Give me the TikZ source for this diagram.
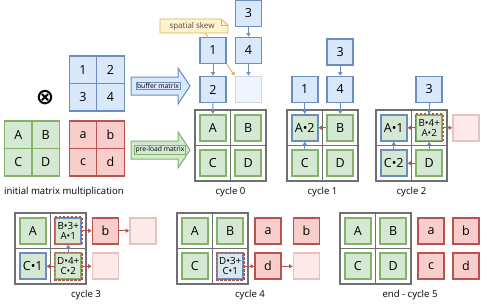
\documentclass[tikz,border=0pt]{standalone}
\usepackage{fontspec}
\setmainfont{Open Sans}
\newfontfamily\symbolfont{DejaVu Sans}
\usetikzlibrary{arrows.meta}

\definecolor{bluefill}{HTML}{DAE8FC}
\definecolor{blueline}{HTML}{6C8EBF}
\definecolor{greenfill}{HTML}{D5E8D4}
\definecolor{greenline}{HTML}{82B366}
\definecolor{redfill}{HTML}{F8CECC}
\definecolor{redline}{HTML}{B85450}
\definecolor{yellowfill}{HTML}{FFF2CC}
\definecolor{yellowline}{HTML}{D6B656}
\definecolor{gridgray}{HTML}{707070}

\begin{document}
\begin{tikzpicture}[x=1pt,y=-1pt]
\tikzset{
  mcell/.style={rectangle,draw,line width=1.2pt,minimum size=27.5pt,inner sep=0pt,font=\fontsize{12.5}{14}\selectfont},
  bcell/.style={mcell,fill=bluefill,draw=blueline},
  gcell/.style={mcell,fill=greenfill,draw=greenline},
  rcell/.style={mcell,fill=redfill,draw=redline},
  bbox/.style={bcell,line width=1.6pt,minimum size=26pt},
  gbox/.style={gcell,line width=1.6pt,minimum size=26pt},
  rbox/.style={rcell,line width=1.6pt,minimum size=26pt},
  bfaint/.style={bbox,fill=bluefill!45,draw=blueline!35},
  rfaint/.style={rbox,fill=redfill!45,draw=redline!35},
  sumtext/.style={align=center,font=\fontsize{9.8}{10.2}\selectfont},
  reddash/.style={redline,line width=1.4pt,dash pattern=on 2.5pt off 1.5pt},
  gridline/.style={gridgray,line width=1.3pt},
  gridframe/.style={gridgray,line width=2pt,fill=white},
  barrow/.style={-{Triangle[length=3.5pt,width=4pt]},blueline,line width=1pt},
  rarrow/.style={-{Triangle[length=3.5pt,width=4pt]},redline,line width=1pt},
  yarrow/.style={-{Triangle[length=3.5pt,width=4pt]},yellowline,line width=0.9pt},
  tag/.style={draw,line width=0.8pt,inner sep=1pt,font=\fontsize{6.8}{7.5}\selectfont},
  caption/.style={font=\fontsize{9.6}{11}\selectfont}
}
\useasboundingbox (0,0) rectangle (500,303);

% initial matrices
\node[bcell] (m_1) at (83,69.75) {1};
\node[bcell] (m_2) at (110.5,69.75) {2};
\node[bcell] (m_3) at (83,97.25) {3};
\node[bcell] (m_4) at (110.5,97.25) {4};
\node[font=\symbolfont\bfseries\fontsize{22}{22}\selectfont,inner sep=0pt] (m_otimes) at (45,98) {⊗};
\node[gcell] (m_A) at (18.25,134.75) {A};
\node[gcell] (m_B) at (45.75,134.75) {B};
\node[gcell] (m_C) at (18.25,162.25) {C};
\node[gcell] (m_D) at (45.75,162.25) {D};
\node[rcell] (m_a) at (83,134.75) {a};
\node[rcell] (m_b) at (110.5,134.75) {b};
\node[rcell] (m_c) at (83,162.25) {c};
\node[rcell] (m_d) at (110.5,162.25) {d};
\node[caption] (t_init) at (64,192) {initial matrix multiplication};

% block arrows
\draw[fill=bluefill,draw=blueline,line width=1pt] (131,77) -- (178,77) -- (178,68) -- (190,86)
  -- (178,104) -- (178,95) -- (131,95) -- cycle;
\node[tag,fill=bluefill,draw=blueline] (l_buf) at (158,86) {buffer matrix};
\draw[fill=greenfill,draw=greenline,line width=1pt] (131,141) -- (178,141) -- (178,132) -- (190,150)
  -- (178,168) -- (178,159) -- (131,159) -- cycle;
\node[tag,fill=greenfill,draw=greenline] (l_pre) at (160,150) {pre-load matrix};

% grids
\foreach \gx/\gy in {195/110,287/110,376/110,15/213,177/213,340/213}{
  \draw[gridframe] (\gx,\gy) rectangle ++(71,71);
  \draw[gridline] (\gx+35.5,\gy) -- ++(0,71) (\gx,\gy+35.5) -- ++(71,0);
}

% cycle 0
\draw[fill=yellowfill,draw=yellowline,line width=0.8pt] (160,19) -- (221,19) -- (228,25)
  -- (228,33) -- (160,33) -- cycle;
\draw[yellowline,line width=0.8pt] (221,19) -- (221,25) -- (228,25);
\node[font=\fontsize{8}{9}\selectfont,text=black!70] (skew) at (192,26) {spatial skew};
\node[bbox] (c0_3) at (248.5,13.5) {3};
\node[bbox] (c0_1) at (213,50.5) {1};
\node[bbox] (c0_4) at (248.5,50.5) {4};
\node[bbox] (c0_2) at (213,89.5) {2};
\node[bfaint] (c0_e) at (248.5,89.5) {};
\node[gbox] (c0_A) at (212.75,127.75) {A};
\node[gbox] (c0_B) at (248.25,127.75) {B};
\node[gbox] (c0_C) at (212.75,163.25) {C};
\node[gbox] (c0_D) at (248.25,163.25) {D};
\coordinate (skew_tail) at (205,33);
\draw[yellowline,line width=0.8pt] (skew_tail) -- (c0_1.110);
\draw[yarrow] (c0_1.south east) -- (c0_e.north west);
\draw[barrow] (c0_3) -- (c0_4);
\draw[barrow] (c0_1) -- (c0_2);
\draw[barrow] (c0_4) -- (c0_e);
\draw[barrow] (c0_2) -- (c0_A);
\node[caption] (t_c0) at (230.5,192) {cycle 0};

% cycle 1
\node[bbox] (c1_3) at (340.25,52) {3};
\node[bbox] (c1_1) at (304.75,89.5) {1};
\node[bbox] (c1_4) at (340.25,89.5) {4};
\node[gbox,draw=blueline] (c1_A) at (304.75,127.75) {A•2};
\node[gbox] (c1_B) at (340.25,127.75) {B};
\node[gbox] (c1_C) at (304.75,163.25) {C};
\node[gbox] (c1_D) at (340.25,163.25) {D};
\draw[barrow] (c1_3) -- (c1_4);
\draw[barrow] (c1_1) -- (c1_A);
\draw[barrow] (c1_4) -- (c1_B);
\draw[rarrow] (c1_B) -- (c1_A);
\draw[barrow] (c1_C) -- (c1_A);
\node[caption] (t_c1) at (322.5,192) {cycle 1};

% cycle 2
\node[bbox] (c2_3) at (429.25,89.5) {3};
\node[gbox,draw=blueline] (c2_A) at (393.75,127.75) {A•1};
\node[gbox,sumtext] (c2_B) at (429.25,127.75) {B•4+\\A•2};
\draw[reddash] (c2_B.south west) rectangle (c2_B.north east);
\node[gbox,draw=blueline] (c2_C) at (393.75,163.25) {C•2};
\node[gbox] (c2_D) at (429.25,163.25) {D};
\node[rfaint] (c2_o) at (466,127.75) {};
\draw[barrow] (c2_3) -- (c2_B);
\draw[rarrow] (c2_B) -- (c2_A);
\draw[rarrow] (c2_D) -- (c2_C);
\draw[barrow] (c2_D) -- (c2_B);
\draw[barrow] (c2_C) -- (c2_A);
\draw[rarrow] (c2_B) -- (c2_o);
\node[caption] (t_c2) at (411.5,192) {cycle 2};

% cycle 3
\node[gbox] (c3_A) at (32.75,230.75) {A};
\node[gbox,draw=blueline,sumtext] (c3_B) at (68.25,230.75) {B•3+\\A•1};
\draw[reddash] (c3_B.south west) rectangle (c3_B.north east);
\node[gbox,draw=blueline] (c3_C) at (32.75,266.25) {C•1};
\node[gbox,sumtext] (c3_D) at (68.25,266.25) {D•4+\\C•2};
\draw[reddash] (c3_D.south west) rectangle (c3_D.north east);
\node[rbox] (c3_b) at (105.5,230.75) {b};
\node[rfaint] (c3_o1) at (143,230.75) {};
\node[rfaint] (c3_o2) at (105.5,266.25) {};
\draw[rarrow] (c3_B) -- (c3_b);
\draw[rarrow] (c3_b) -- (c3_o1);
\draw[rarrow] (c3_D) -- (c3_C);
\draw[barrow] (c3_D) -- (c3_B);
\draw[rarrow] (c3_D) -- (c3_o2);
\node[caption] (t_c3) at (86,295) {cycle 3};

% cycle 4
\node[gbox] (c4_A) at (194.75,230.75) {A};
\node[gbox] (c4_B) at (230.25,230.75) {B};
\node[gbox] (c4_C) at (194.75,266.25) {C};
\node[gbox,fill=bluefill!60!greenfill,draw=blueline,sumtext] (c4_D) at (230.25,266.25) {D•3+\\C•1};
\draw[reddash] (c4_D.south west) rectangle (c4_D.north east);
\node[rbox] (c4_a) at (268,230.75) {a};
\node[rbox] (c4_b) at (306.5,230.75) {b};
\node[rbox] (c4_d) at (268,266.25) {d};
\node[rfaint] (c4_o) at (306.5,266.25) {};
\draw[rarrow] (c4_D) -- (c4_d);
\draw[rarrow] (c4_d) -- (c4_o);
\node[caption] (t_c4) at (250,295) {cycle 4};

% end - cycle 5
\node[gbox] (c5_A) at (357.75,230.75) {A};
\node[gbox] (c5_B) at (393.25,230.75) {B};
\node[gbox] (c5_C) at (357.75,266.25) {C};
\node[gbox] (c5_D) at (393.25,266.25) {D};
\node[rbox] (c5_a) at (431,230.75) {a};
\node[rbox] (c5_b) at (466,230.75) {b};
\node[rbox] (c5_c) at (431,266.25) {c};
\node[rbox] (c5_d) at (466,266.25) {d};
\node[caption] (t_c5) at (410,295) {end - cycle 5};
\end{tikzpicture}
\end{document}
